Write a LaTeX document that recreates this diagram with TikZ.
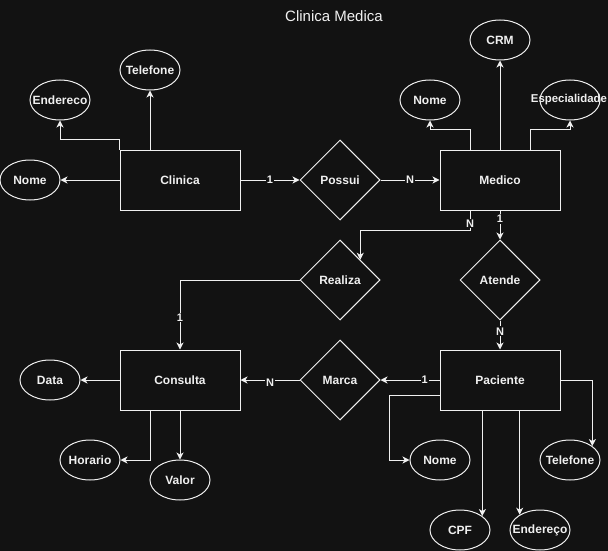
\documentclass[tikz,border=0pt]{standalone}
\usepackage{fontspec}
\setmainfont{Liberation Sans}
\usetikzlibrary{arrows.meta,shapes.geometric}
\definecolor{canvas}{HTML}{121212}
\definecolor{chalk}{HTML}{F0F0F0}

\begin{document}
\begin{tikzpicture}[x=1pt,y=-1pt,line width=1pt,
  ent/.style={draw=chalk,fill=canvas,text=chalk,minimum width=120pt,minimum height=60pt,font=\bfseries\fontsize{12}{14}\selectfont},
  rel/.style={diamond,draw=chalk,fill=canvas,text=chalk,minimum width=80pt,minimum height=80pt,inner sep=0pt,font=\bfseries\fontsize{12}{14}\selectfont},
  attr/.style={ellipse,draw=chalk,fill=canvas,text=chalk,minimum width=60pt,minimum height=40pt,inner sep=0pt,font=\bfseries\fontsize{12}{14}\selectfont},
  link/.style={draw=chalk,-{Stealth[length=7pt,width=7pt,inset=2pt]}},
  card/.style={fill=canvas,text=chalk,inner sep=1pt,font=\bfseries\fontsize{11}{13}\selectfont}]
  \useasboundingbox[fill=canvas] (0,0) rectangle (608,551);
  \node[text=chalk,font=\fontsize{15}{18}\selectfont] (title) at (334,16) {Clinica Medica};
  % entities
  \node[ent] (clin) at (180,180) {Clinica};
  \node[ent] (med) at (500,180) {Medico};
  \node[ent] (cons) at (180,380) {Consulta};
  \node[ent] (pac) at (500,380) {Paciente};
  % relationships
  \node[rel] (pos) at (340,180) {Possui};
  \node[rel] (rea) at (340,280) {Realiza};
  \node[rel] (ate) at (500,280) {Atende};
  \node[rel] (mar) at (340,380) {Marca};
  % attributes
  \foreach \nm/\tx/\px/\py in {cTel/Telefone/150/70, cEnd/Endereco/60/100, cNome/Nome/30/180,
      crm/CRM/500/40, mNome/Nome/430/100,
      data/Data/50/380, hor/Horario/90/460, val/Valor/180/480,
      pNome/Nome/440/460, pTel/Telefone/570/460, cpf/CPF/460/530, pEnd/Endereço/540/530}
    \node[attr] (\nm) at (\px,\py) {\makebox[0pt]{\tx}};
  \node[attr,font=\bfseries\fontsize{11.4}{14}\selectfont] (esp) at (570,100) {\makebox[0pt]{\hspace{-2pt}Especialidade}};
  % clinica
  \draw[link] (clin.west) -- (cNome.east);
  \draw[link] (clin.north west) -- ++(0,-10) -| (cEnd.south);
  \draw[link] (cTel.south |- clin.north) -- (cTel.south);
  \draw[link] (clin.east) -- node[card]{1} (pos.west);
  \draw[link] (pos.east) -- node[card]{N} (med.west);
  % medico
  \draw[link] (med.north) -- (crm.south);
  \draw[link] ([xshift=-30pt]med.north) -- ++(0,-20) -| (mNome.south);
  \draw[link] ([xshift=30pt]med.north) -- ++(0,-20) -| (esp.south);
  \draw[link] ([xshift=-30pt]med.south) -- node[card,pos=0.65]{N} ++(0,20) -| (rea.north east);
  \draw[link] (med.south) -- node[card,pos=0.3]{1} (ate.north);
  \draw[link] (ate.south) -- node[card,pos=0.37]{N} (pac.north);
  % consulta
  \draw[link] (rea.west) -| node[card,pos=0.77]{1} (cons.north);
  \draw[link] (mar.west) -- node[card,yshift=-3pt]{N} (cons.east);
  \draw[link] (pac.west) -- node[card,pos=0.25]{1} (mar.east);
  \draw[link] (cons.west) -- (data.east);
  \draw[link] ([xshift=-30pt]cons.south) |- (hor.east);
  \draw[link] (cons.south) -- (val.north);
  % paciente
  \draw[link] ([yshift=-15pt]pac.west) -- ++(-50,0) |- (pNome.west);
  \draw[link] (pac.east) -| (pTel.32);
  \draw[link] (cpf.32 |- pac.south) -- (cpf.32);
  \draw[link] (pEnd.143 |- pac.south) -- (pEnd.143);
\end{tikzpicture}
\end{document}
